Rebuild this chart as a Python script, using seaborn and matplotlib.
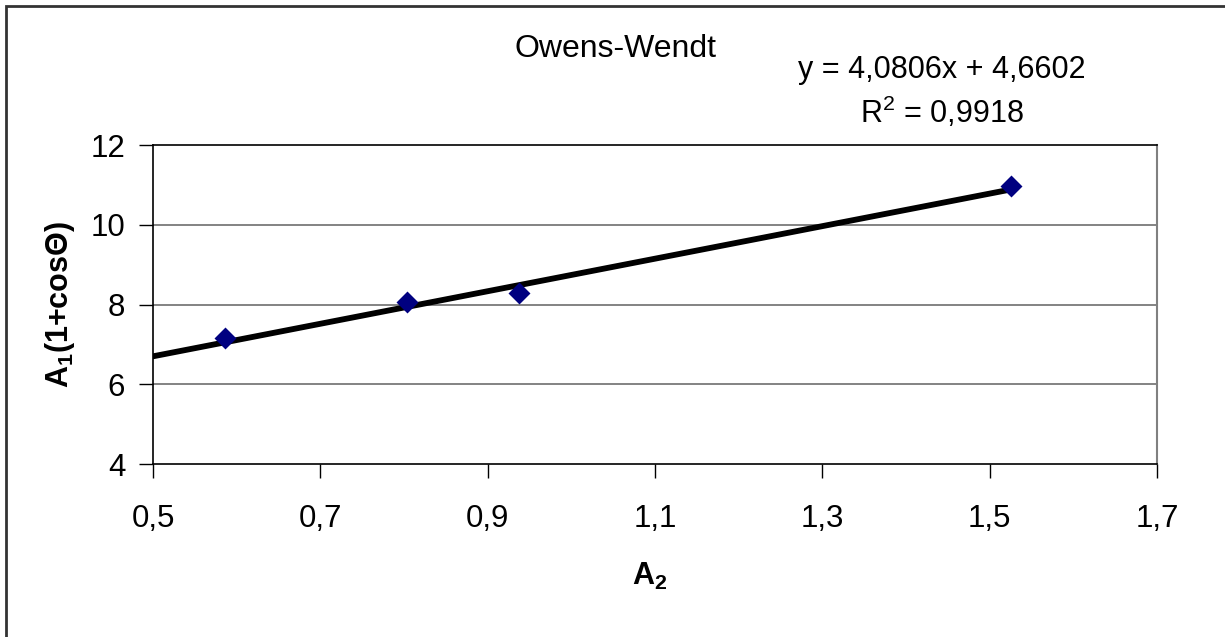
import matplotlib
matplotlib.use("Agg")
import numpy as np
import pandas as pd
import matplotlib.pyplot as plt
import matplotlib.patches as mpatches
import seaborn as sns

sns.set_style("white")
plt.rcParams["font.family"] = ["Liberation Sans", "DejaVu Sans"]
plt.rcParams["mathtext.default"] = "regular"
plt.rcParams["text.color"] = "black"
plt.rcParams["xtick.color"] = "black"
plt.rcParams["ytick.color"] = "black"

# data
a2 = [0.586, 0.804, 0.938, 1.526]
a1_cos = [7.17, 8.07, 8.28, 10.97]
slope = 4.0806
intercept = 4.6602
r2 = 0.9918

x_ticks = [0.5, 0.7, 0.9, 1.1, 1.3, 1.5, 1.7]
x_ticklabels = ["0,5", "0,7", "0,9", "1,1", "1,3", "1,5", "1,7"]
y_ticks = [4, 6, 8, 10, 12]
y_ticklabels = ["4", "6", "8", "10", "12"]

df = pd.DataFrame({"A2": a2, "A1cos": a1_cos})
trend_x = np.array([x_ticks[0], max(a2)])
trend = pd.DataFrame({"x": trend_x, "y": slope * trend_x + intercept})

fig = plt.figure(figsize=(12.25, 6.37), dpi=100)
ax = fig.add_axes([153 / 1225, 1 - 464 / 637, (1157 - 153) / 1225, (464 - 145) / 637])

for yv in y_ticks[1:-1]:
    ax.axhline(yv, color="#6e6e6e", lw=1.2, zorder=0)

sns.lineplot(data=trend, x="x", y="y", color="black", lw=4.2, ax=ax, zorder=2)
sns.scatterplot(data=df, x="A2", y="A1cos", marker="D", s=125, color="#000080",
                edgecolor="#000080", linewidth=0, ax=ax, zorder=3)

ax.set_xlim(x_ticks[0], x_ticks[-1])
ax.set_ylim(y_ticks[0], y_ticks[-1])
ax.set_xticks(x_ticks)
ax.set_xticklabels(x_ticklabels)
ax.set_yticks(y_ticks)
ax.set_yticklabels(y_ticklabels)
ax.tick_params(axis="both", direction="out", length=10, width=1, color="black",
               labelsize=22.5, labelcolor="black", bottom=True, left=True)
ax.tick_params(axis="x", pad=19)
ax.tick_params(axis="y", pad=10)

for side in ["left", "bottom", "top"]:
    ax.spines[side].set_color("black")
    ax.spines[side].set_linewidth(1.2)
ax.spines["right"].set_color("#808080")
ax.spines["right"].set_linewidth(1.5)

ax.set_xlabel("")
ax.set_ylabel("")
fig.text(650 / 1225, 1 - 576 / 637, "A$_2$", fontsize=22, fontweight="bold",
         ha="center", va="center")
fig.text(60 / 1225, 1 - 305 / 637, "A$_1$(1+cosΘ)", fontsize=22, fontweight="bold",
         ha="center", va="center", rotation=90)

fig.text(616 / 1225, 1 - 49 / 637, "Owens-Wendt", fontsize=23, ha="center", va="center")
fig.text(942 / 1225, 1 - 70 / 637, f"y = {slope:.4f}x + {intercept:.4f}".replace(".", ","),
         fontsize=22, ha="center", va="center")
fig.text(942 / 1225, 1 - 112 / 637, f"R$^2$ = {r2:.4f}".replace(".", ","),
         fontsize=22, ha="center", va="center")

# outer chart border (only left and top edges are visible in the crop)
fig.add_artist(mpatches.Rectangle((5.5 / 1225, -0.2), 1.5, 1.2 - 5.5 / 637,
                                  transform=fig.transFigure, fill=False,
                                  edgecolor="#333333", lw=2))

fig.savefig("out.png", dpi=100)
